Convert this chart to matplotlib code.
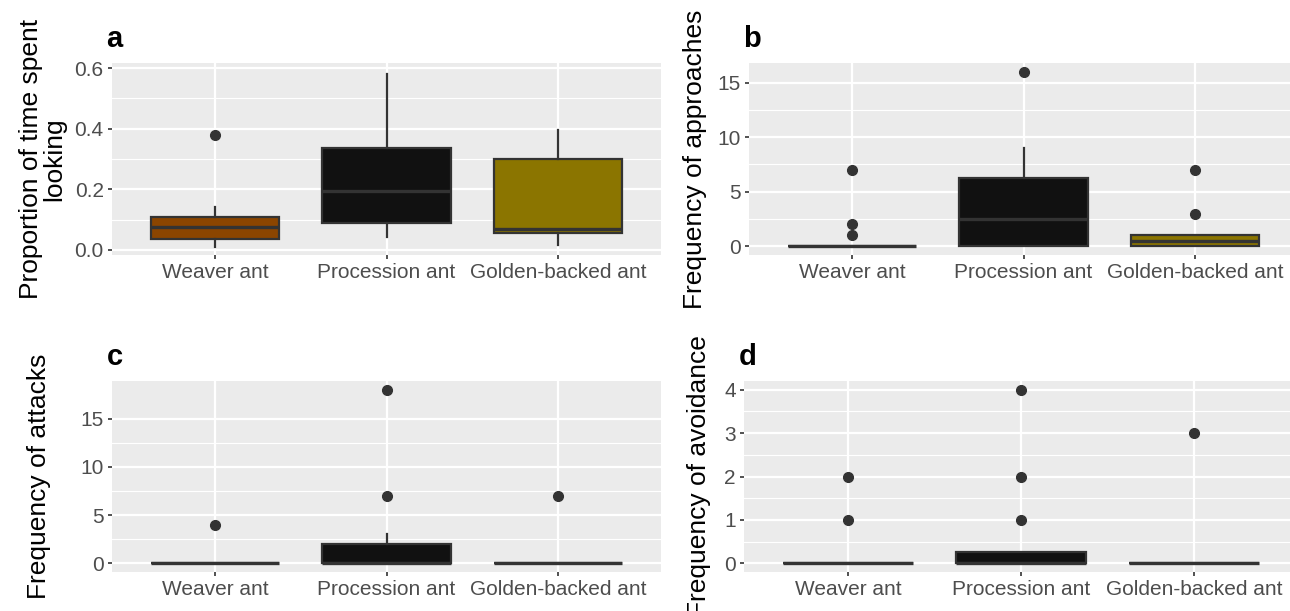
import numpy as np
import matplotlib.pyplot as plt

plt.rcParams['font.family'] = ['Liberation Sans', 'DejaVu Sans']

species = ['Weaver ant', 'Procession ant', 'Golden-backed ant']
fills = ['#8B4500', '#111111', '#8B7500']

# panel a: proportion of time spent looking
a_q1 = [0.035, 0.09, 0.055]
a_med = [0.075, 0.195, 0.07]
a_q3 = [0.11, 0.335, 0.30]
a_lo = [0.01, 0.043, 0.017]
a_hi = [0.143, 0.58, 0.395]
a_out = [[0.38], [], []]

# panel b: approaches
b_q1 = [0, 0, 0]
b_med = [0, 2.5, 0.5]
b_q3 = [0, 6.25, 1]
b_lo = [0, 0, 0]
b_hi = [0, 9, 1]
b_out = [[7, 2, 1], [16], [7, 3]]

# panel c: attacks
c_q1 = [0, 0, 0]
c_med = [0, 0, 0]
c_q3 = [0, 2, 0]
c_lo = [0, 0, 0]
c_hi = [0, 3, 0]
c_out = [[4], [7, 18], [7]]

# panel d: avoidance
d_q1 = [0, 0, 0]
d_med = [0, 0, 0]
d_q3 = [0, 0.25, 0]
d_lo = [0, 0, 0]
d_hi = [0, 0.25, 0]
d_out = [[1, 2], [1, 2, 4], [3]]

W, H = 1290, 611
fig = plt.figure(figsize=(W / 100, H / 100), dpi=100)


def px_axes(left, top, right, bottom):
    return fig.add_axes([left / W, 1 - bottom / H, (right - left) / W, (bottom - top) / H])


def panel(ax, q1, med, q3, lo, hi, out, ylim, yticks, minor, ticklabels, ylabel, letter, labx):
    stats = []
    for i in range(3):
        stats.append(dict(q1=q1[i], med=med[i], q3=q3[i], whislo=lo[i], whishi=hi[i],
                          fliers=out[i], label=species[i]))
    ax.set_facecolor('#EBEBEB')
    ax.set_axisbelow(True)
    bp = ax.bxp(stats, positions=[0, 1, 2], widths=0.75, patch_artist=True,
                showcaps=False,
                boxprops=dict(edgecolor='#333333', linewidth=1.6),
                medianprops=dict(color='#333333', linewidth=2.4, solid_capstyle='butt'),
                whiskerprops=dict(color='#333333', linewidth=1.6),
                flierprops=dict(marker='o', markerfacecolor='#333333', markeredgecolor='#333333',
                                markersize=7))
    for patch, c in zip(bp['boxes'], fills):
        patch.set_facecolor(c)
    ax.set_xlim(-0.6, 2.6)
    ax.set_ylim(*ylim)
    ax.set_yticks(yticks)
    ax.set_yticklabels(ticklabels)
    ax.set_yticks(minor, minor=True)
    ax.set_xticks([0, 1, 2])
    ax.set_xticklabels(species)
    ax.grid(which='major', color='white', linewidth=1.6)
    ax.grid(which='minor', axis='y', color='white', linewidth=0.8)
    ax.tick_params(axis='both', which='major', length=3, width=1.2, color='#333333',
                   labelsize=15, labelcolor='#4D4D4D', pad=3)
    ax.tick_params(which='minor', length=0)
    for s in ax.spines.values():
        s.set_visible(False)
    ax.set_ylabel(ylabel, fontsize=19, linespacing=0.95)
    ax.yaxis.set_label_coords(labx, 0.5)
    ax.text(-0.01, 1.05, letter, transform=ax.transAxes, fontsize=21, fontweight='bold',
            ha='left', va='bottom')


ax_a = px_axes(112, 63, 661, 255)
panel(ax_a, a_q1, a_med, a_q3, a_lo, a_hi, a_out, (-0.017, 0.6165),
      [0, 0.2, 0.4, 0.6], [0.1, 0.3, 0.5], ['0.0', '0.2', '0.4', '0.6'],
      'Proportion of time spent\nlooking', 'a', -0.084)

ax_b = px_axes(749, 63, 1298, 255)
panel(ax_b, b_q1, b_med, b_q3, b_lo, b_hi, b_out, (-0.8, 16.8),
      [0, 5, 10, 15], [2.5, 7.5, 12.5], ['0', '5', '10', '15'],
      'Frequency of approaches', 'b', -0.077)

ax_c = px_axes(112, 381, 661, 572)
panel(ax_c, c_q1, c_med, c_q3, c_lo, c_hi, c_out, (-0.9, 18.9),
      [0, 5, 10, 15], [2.5, 7.5, 12.5], ['0', '5', '10', '15'],
      'Frequency of attacks', 'c', -0.111)

ax_d = px_axes(744, 381, 1298, 572)
panel(ax_d, d_q1, d_med, d_q3, d_lo, d_hi, d_out, (-0.2, 4.2),
      [0, 1, 2, 3, 4], [0.5, 1.5, 2.5, 3.5], ['0', '1', '2', '3', '4'],
      'Frequency of avoidance', 'd', -0.06)

fig.savefig('out.png', dpi=100)
